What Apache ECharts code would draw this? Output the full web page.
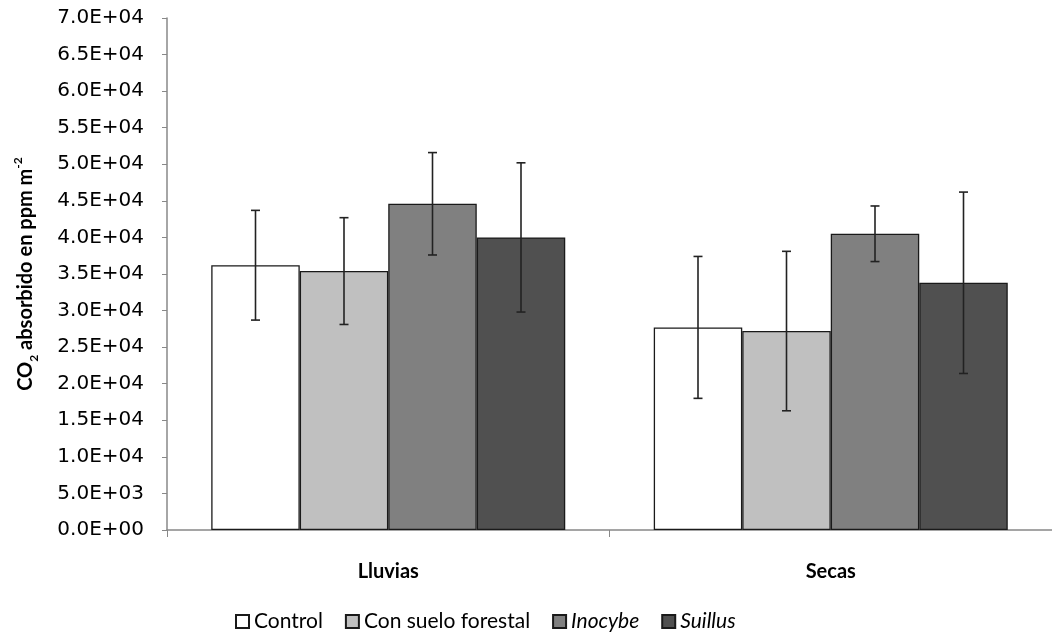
<!DOCTYPE html>
<html><head><meta charset="utf-8">
<script src="https://cdn.jsdelivr.net/npm/echarts@6/dist/echarts.min.js"></script>
<style>html,body{margin:0;padding:0;background:#fff}#c{width:1052px;height:637px}</style>
</head><body><div id="c"></div>
<script>
const categories = ['Lluvias', 'Secas'];
const seriesNames = ['Control', 'Con suelo forestal', 'Inocybe', 'Suillus'];
const italicNames = ['Inocybe', 'Suillus'];
const controlVals = [36200, 27700];
const sueloVals = [35400, 27200];
const inocybeVals = [44600, 40500];
const suillusVals = [40000, 33800];
const controlErr = [7500, 9700];
const sueloErr = [7300, 10900];
const inocybeErr = [7000, 3800];
const suillusErr = [10200, 12400];
const yTicks = { min: 0, max: 70000, interval: 5000 };

const values = [controlVals, sueloVals, inocybeVals, suillusVals];
const errors = [controlErr, sueloErr, inocybeErr, suillusErr];
const fills = ['#ffffff', '#c0c0c0', '#808080', '#505050'];
const catGap = 0.2;

const barSeries = seriesNames.map((n, i) => ({
  name: n, type: 'bar', data: values[i], barGap: '0%', barCategoryGap: '20%',
  itemStyle: { color: fills[i], borderColor: '#1a1a1a', borderWidth: 1.3 },
  z: 2
}));

const errSeries = seriesNames.map((n, i) => ({
  type: 'custom', name: n + ' err', z: 5, silent: true,
  data: values[i].map((v, k) => [k, v, errors[i][k]]),
  renderItem: function (params, api) {
    const k = api.value(0), v = api.value(1), e = api.value(2);
    const band = api.size([1, 0])[0];
    const bw = band * (1 - catGap) / seriesNames.length;
    const c = api.coord([k, v]);
    const x = c[0] + (i - (seriesNames.length - 1) / 2) * bw;
    const yt = api.coord([k, v + e])[1];
    const yb = api.coord([k, v - e])[1];
    const cap = 4.5;
    const st = { stroke: '#222', lineWidth: 1.6 };
    return { type: 'group', children: [
      { type: 'line', shape: { x1: x, y1: yt, x2: x, y2: yb }, style: st },
      { type: 'line', shape: { x1: x - cap, y1: yt, x2: x + cap, y2: yt }, style: st },
      { type: 'line', shape: { x1: x - cap, y1: yb, x2: x + cap, y2: yb }, style: st }
    ]};
  }
}));

const chart = echarts.init(document.getElementById('c'));
chart.setOption({
  animation: false,
  backgroundColor: '#fff',
  grid: { left: 167, top: 18, width: 890, height: 512 },
  legend: {
    data: seriesNames, left: 235, top: 611, padding: 0, icon: 'rect',
    itemWidth: 13, itemHeight: 13, itemGap: 22,
    formatter: n => italicNames.includes(n) ? '{i|' + n + '}' : n,
    textStyle: { fontFamily: 'Lato', fontSize: 21, color: '#000',
      rich: { i: { fontFamily: 'Lato', fontSize: 21, fontStyle: 'italic', color: '#000' } } }
  },
  xAxis: {
    type: 'category', data: categories,
    axisLine: { lineStyle: { color: '#888', width: 1.5 } },
    axisTick: { show: true, length: 7, lineStyle: { color: '#888' } },
    axisLabel: { fontFamily: 'Lato', fontWeight: 'bold', fontSize: 20, color: '#000', margin: 32 }
  },
  yAxis: {
    type: 'value', min: yTicks.min, max: yTicks.max, interval: yTicks.interval,
    name: 'CO{sub|2} absorbido en ppm m{sup|-2}',
    nameLocation: 'middle', nameGap: 127, nameRotate: 90,
    nameTextStyle: { fontFamily: 'Lato', fontWeight: 'bold', fontSize: 20, color: '#000',
      rich: {
        sub: { fontFamily: 'Lato', fontWeight: 'bold', fontSize: 12, color: '#000', verticalAlign: 'bottom', lineHeight: 14 },
        sup: { fontFamily: 'Lato', fontWeight: 'bold', fontSize: 12, color: '#000', verticalAlign: 'top', lineHeight: 28 }
      } },
    axisLine: { show: true, lineStyle: { color: '#888', width: 1.5 } },
    axisTick: { show: true, length: 5, lineStyle: { color: '#888' } },
    splitLine: { show: false },
    axisLabel: { fontFamily: 'DejaVu Sans', fontSize: 20, color: '#000', margin: 23,
      formatter: v => { const s = v.toExponential(1).toUpperCase(); const m = s.match(/^(.*)E([+-])(\d+)$/); return m[1] + 'E' + m[2] + m[3].padStart(2, '0'); } }
  },
  series: barSeries.concat(errSeries)
});
</script></body></html>
